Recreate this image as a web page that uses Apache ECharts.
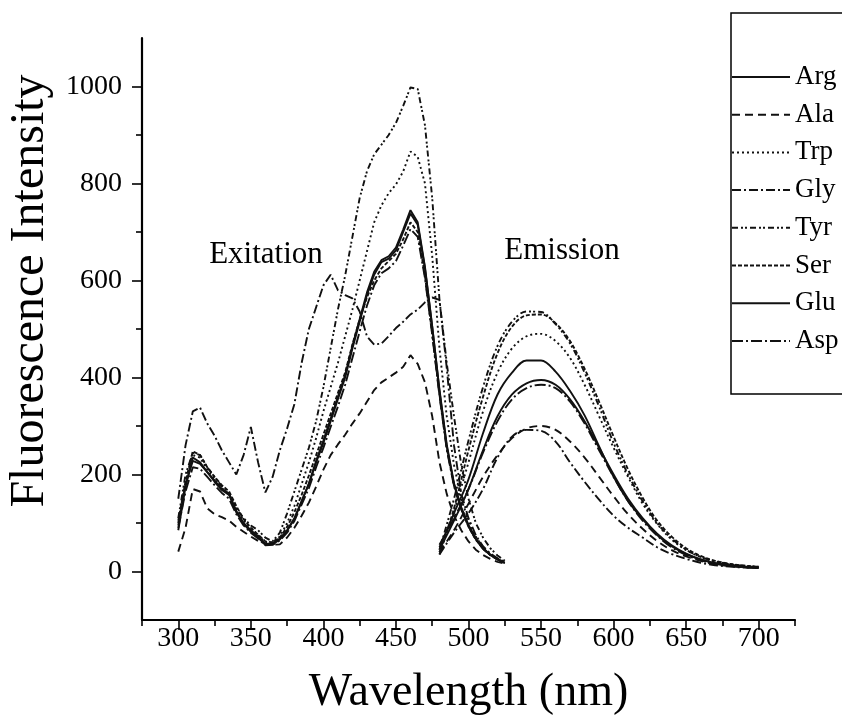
<!DOCTYPE html>
<html>
<head>
<meta charset="utf-8">
<title>Fluorescence spectra</title>
<script src="https://cdn.jsdelivr.net/npm/echarts@6/dist/echarts.min.js"></script>
<style>
  html, body { margin: 0; padding: 0; background: #fff; }
  #chart { width: 842px; height: 722px; }
</style>
</head>
<body>
<div id="chart"></div>
<script>
// Wavelength grids (nm)
const excitationNm = [300,305,310,315,320,325,330,335,340,345,350,355,360,365,370,375,380,385,390,395,
                      400,405,410,415,420,425,430,435,440,445,450,455,460,465,470,475,480,485,490,495,
                      500,505,510,515,520,525];
const emissionNm = [480,490,500,510,520,530,540,550,560,570,580,590,600,610,620,630,640,650,660,670,680,690,700];

// Excitation intensities
const argExc = [95,180,228,222,205,188,170,160,125,100,85,72,57,58,68,85,110,145,180,225,
                265,310,355,400,460,515,570,612,638,645,662,700,738,715,625,505,375,262,182,132,
                96,68,48,35,25,18];
const alaExc = [41,90,170,165,130,118,112,105,92,82,72,63,57,55,56,70,90,115,142,175,
                210,240,262,282,305,326,350,374,390,400,410,422,446,428,390,320,225,160,115,85,
                62,45,34,26,20,16];
const trpExc = [100,180,240,235,210,190,172,160,130,105,90,75,60,60,72,100,135,180,225,275,
                330,380,430,485,540,600,660,720,755,780,798,825,866,855,800,650,460,320,220,150,
                105,72,50,36,26,19];
const glyExc = [150,260,330,338,305,280,250,225,200,240,298,225,163,195,250,295,345,430,500,545,
                590,612,580,570,563,536,485,468,470,485,502,515,530,540,555,565,560,420,260,160,
                110,75,52,37,27,20];
const tyrExc = [110,200,245,240,215,195,175,160,130,110,95,85,70,62,80,120,165,210,255,310,
                380,460,540,610,690,770,825,860,880,900,925,960,998,995,920,770,560,430,320,220,
                150,100,70,48,33,22];
const serExc = [105,185,248,240,215,195,178,165,135,108,90,76,62,60,70,92,122,158,198,240,
                282,325,368,410,468,520,565,600,625,640,655,685,720,700,610,490,365,255,178,128,
                92,66,47,34,25,18];
const gluExc = [85,175,235,225,205,185,168,158,122,98,82,70,55,56,66,84,108,144,182,228,
                270,315,360,405,465,520,575,618,642,650,668,705,745,720,628,505,372,258,180,130,
                94,67,47,34,25,18];
const aspExc = [90,165,215,212,195,178,162,150,118,95,80,68,54,55,64,80,104,138,172,215,
                255,298,340,385,440,495,548,590,615,625,640,672,706,690,605,488,362,252,176,128,
                93,66,47,34,25,18];

// Emission intensities
const argEm = [50,120,190,285,365,410,435,435,412,372,322,258,195,145,108,75,52,36,25,17,13,10,8];
const alaEm = [40,85,140,195,240,275,295,300,292,268,235,195,155,118,88,63,44,31,22,15,11,9,7];
const trpEm = [40,125,225,330,410,460,485,490,475,440,385,320,255,195,140,98,66,44,30,20,15,11,9];
const glyEm = [35,80,120,170,235,278,292,290,268,225,185,148,115,90,70,50,36,26,18,13,10,8,7];
const tyrEm = [45,150,270,380,465,515,536,535,510,470,410,340,265,200,145,100,68,45,30,21,15,12,10];
const serEm = [35,130,250,360,450,505,528,530,512,475,418,350,278,210,152,105,72,48,32,22,16,12,10];
const gluEm = [45,105,170,250,320,365,388,395,385,355,310,255,200,150,110,78,54,37,25,17,13,10,8];
const aspEm = [55,110,170,245,310,355,378,385,378,350,305,250,195,145,105,74,50,34,23,16,12,9,7];

// Axis tick positions and labels
const xMajorTicks = [300,350,400,450,500,550,600,650,700];
const xMinorTicks = [275,325,375,425,475,525,575,625,675,725];
const yMajorTicks = [0,200,400,600,800,1000];
const yMinorTicks = [100,300,500,700,900];

const compounds = ['Arg','Ala','Trp','Gly','Tyr','Ser','Glu','Asp'];
const excitation = [argExc, alaExc, trpExc, glyExc, tyrExc, serExc, gluExc, aspExc];
const emission = [argEm, alaEm, trpEm, glyEm, tyrEm, serEm, gluEm, aspEm];

// Line pattern per compound
const dashes = ['solid', [8,5], [2,3], [9,3,2,3], [6,3,2,2,2,3], [4,2], 'solid', [11,3,2,3]];

const FONT = "'Liberation Serif', 'Times New Roman', serif";

function pairs(xs, ys) { return xs.map((x, i) => [x, ys[i]]); }

const series = [];
compounds.forEach((name, i) => {
  const lineStyle = { color: '#111', width: 1.9, type: dashes[i] };
  series.push({
    name, type: 'line', symbol: 'none', xAxisIndex: 0, yAxisIndex: 0,
    data: pairs(excitationNm, excitation[i]), lineStyle, itemStyle: { color: '#111' }
  });
  series.push({
    name, type: 'line', symbol: 'none', smooth: 0.35, xAxisIndex: 0, yAxisIndex: 0,
    data: pairs(emissionNm, emission[i]), lineStyle, itemStyle: { color: '#111' }
  });
});

const axisLineStyle = { color: '#000', width: 2.2 };
const plain = v => String(v);

const option = {
  animation: false,
  backgroundColor: '#fff',
  grid: { left: 142, right: 47, top: 38, bottom: 102, containLabel: false },
  xAxis: [
    {
      type: 'value', min: 275, max: 725, position: 'bottom',
      axisLine: { show: true, onZero: false, lineStyle: axisLineStyle },
      axisTick: { show: true, inside: false, length: 10, customValues: xMajorTicks, lineStyle: { color: '#000', width: 1.6 } },
      axisLabel: { show: true, customValues: xMajorTicks, formatter: plain, fontSize: 28, fontFamily: FONT, color: '#000', margin: 5 },
      splitLine: { show: false },
      name: 'Wavelength (nm)', nameLocation: 'middle', nameGap: 50,
      nameTextStyle: { fontSize: 46, fontFamily: FONT, color: '#000' }
    },
    {
      type: 'value', min: 275, max: 725, position: 'bottom',
      axisLine: { show: false, onZero: false },
      axisTick: { show: true, inside: false, length: 6, customValues: xMinorTicks, lineStyle: { color: '#000', width: 1.6 } },
      axisLabel: { show: false },
      splitLine: { show: false }
    }
  ],
  yAxis: [
    {
      type: 'value', min: -100, max: 1100, position: 'left',
      axisLine: { show: true, onZero: false, lineStyle: axisLineStyle },
      axisTick: { show: true, inside: false, length: 10, customValues: yMajorTicks, lineStyle: { color: '#000', width: 1.6 } },
      axisLabel: { show: true, customValues: yMajorTicks, formatter: plain, fontSize: 28, fontFamily: FONT, color: '#000', margin: 20 },
      splitLine: { show: false }
    },
    {
      type: 'value', min: -100, max: 1100, position: 'left',
      axisLine: { show: false, onZero: false },
      axisTick: { show: true, inside: false, length: 6, customValues: yMinorTicks, lineStyle: { color: '#000', width: 1.6 } },
      axisLabel: { show: false },
      splitLine: { show: false }
    }
  ],
  legend: {
    data: compounds,
    orient: 'vertical',
    left: 731, top: 13,
    padding: [50, 20, 39, 0],
    borderColor: '#000', borderWidth: 1.5,
    itemWidth: 58, itemHeight: 10, itemGap: 9.7,
    itemStyle: { opacity: 0 },
    selectedMode: false,
    textStyle: { fontSize: 27, fontFamily: FONT, color: '#000', lineHeight: 28 }
  },
  graphic: [
    {
      type: 'text', x: 30, y: 291, rotation: Math.PI / 2,
      style: { text: 'Fluorescence Intensity', font: "48px 'Liberation Serif', 'Times New Roman', serif",
               fill: '#000', textAlign: 'center', textVerticalAlign: 'middle' }
    },
    {
      type: 'text', x: 266, y: 255,
      style: { text: 'Exitation', font: "31px 'Liberation Serif', 'Times New Roman', serif",
               fill: '#000', textAlign: 'center', textVerticalAlign: 'middle' }
    },
    {
      type: 'text', x: 562, y: 251,
      style: { text: 'Emission', font: "31px 'Liberation Serif', 'Times New Roman', serif",
               fill: '#000', textAlign: 'center', textVerticalAlign: 'middle' }
    }
  ],
  series
};

const chart = echarts.init(document.getElementById('chart'), null, { renderer: 'canvas' });
chart.setOption(option);
</script>
</body>
</html>
